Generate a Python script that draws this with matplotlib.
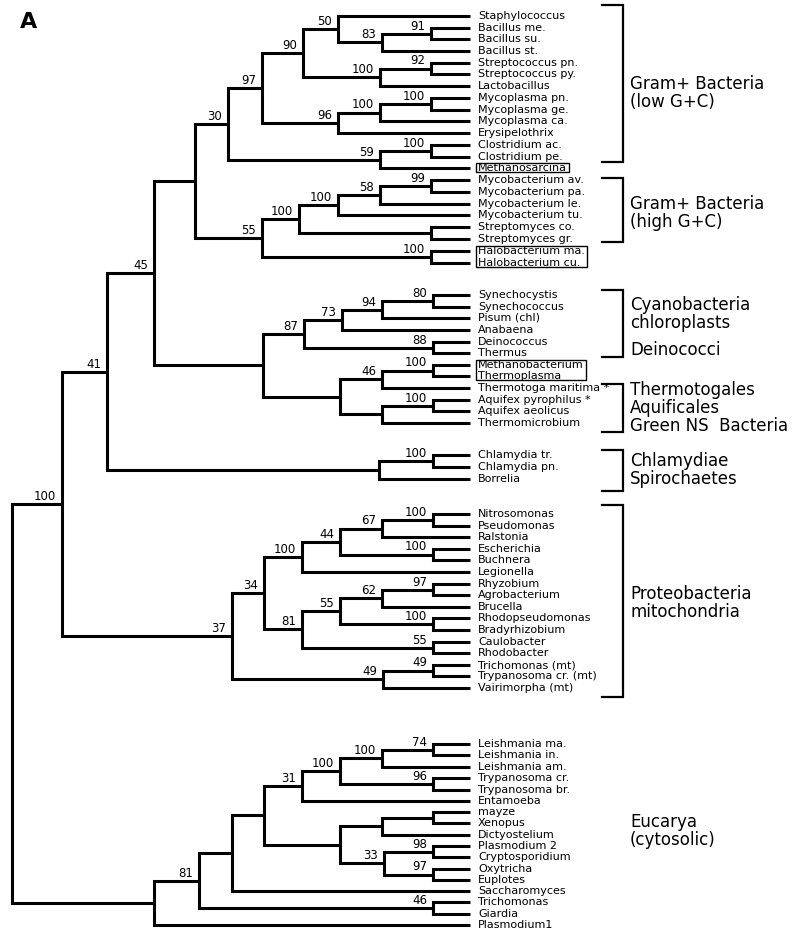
import matplotlib
matplotlib.use('Agg')
import matplotlib.pyplot as plt
from matplotlib.patches import Rectangle

# ── leaves (top to bottom) and their row positions ─────────────────────────
leaves = [
    'Staphylococcus', 'Bacillus me.', 'Bacillus su.', 'Bacillus st.',
    'Streptococcus pn.', 'Streptococcus py.', 'Lactobacillus',
    'Mycoplasma pn.', 'Mycoplasma ge.', 'Mycoplasma ca.', 'Erysipelothrix',
    'Clostridium ac.', 'Clostridium pe.', 'Methanosarcina',
    'Mycobacterium av.', 'Mycobacterium pa.', 'Mycobacterium le.',
    'Mycobacterium tu.', 'Streptomyces co.', 'Streptomyces gr.',
    'Halobacterium ma.', 'Halobacterium cu.',
    'Synechocystis', 'Synechococcus', 'Pisum (chl)', 'Anabaena',
    'Deinococcus', 'Thermus', 'Methanobacterium', 'Thermoplasma',
    'Thermotoga maritima *', 'Aquifex pyrophilus *', 'Aquifex aeolicus',
    'Thermomicrobium',
    'Chlamydia tr.', 'Chlamydia pn.', 'Borrelia',
    'Nitrosomonas', 'Pseudomonas', 'Ralstonia', 'Escherichia', 'Buchnera',
    'Legionella', 'Rhyzobium', 'Agrobacterium', 'Brucella',
    'Rhodopseudomonas', 'Bradyrhizobium', 'Caulobacter', 'Rhodobacter',
    'Trichomonas (mt)', 'Trypanosoma cr. (mt)', 'Vairimorpha (mt)',
    'Leishmania ma.', 'Leishmania in.', 'Leishmania am.', 'Trypanosoma cr.',
    'Trypanosoma br.', 'Entamoeba', 'mayze', 'Xenopus', 'Dictyostelium',
    'Plasmodium 2', 'Cryptosporidium', 'Oxytricha', 'Euplotes',
    'Saccharomyces', 'Trichomonas', 'Giardia', 'Plasmodium1',
]
leaf_y = [
    16, 28, 39, 51, 63, 74, 86, 98, 110, 121, 133, 145, 157, 168,
    180, 192, 204, 215, 227, 239, 251, 263,
    295, 307, 318, 330, 342, 353, 365, 376, 388, 400, 411, 423,
    455, 467, 479,
    514, 526, 537, 549, 560, 572, 584, 595, 607, 618, 630, 642, 653,
    665, 676, 688,
    744, 755, 767, 778, 790, 801, 812, 823, 835, 846, 857, 869, 880,
    891, 902, 914, 925,
]

# ── internal nodes: (id, depth, children, bootstrap) ─ children first ─────
nodes = [
    ('n91', 431, ('Bacillus me.', 'Bacillus su.'), '91'),
    ('n83', 382, ('n91', 'Bacillus st.'), '83'),
    ('n50', 338, ('Staphylococcus', 'n83'), '50'),
    ('n92', 431, ('Streptococcus pn.', 'Streptococcus py.'), '92'),
    ('n100a', 380, ('n92', 'Lactobacillus'), '100'),
    ('n90', 303, ('n50', 'n100a'), '90'),
    ('n100b', 431, ('Mycoplasma pn.', 'Mycoplasma ge.'), '100'),
    ('n100c', 380, ('n100b', 'Mycoplasma ca.'), '100'),
    ('n96', 338, ('n100c', 'Erysipelothrix'), '96'),
    ('n97', 262, ('n90', 'n96'), '97'),
    ('n100d', 431, ('Clostridium ac.', 'Clostridium pe.'), '100'),
    ('n59', 380, ('n100d', 'Methanosarcina'), '59'),
    ('n30', 228, ('n97', 'n59'), '30'),
    ('n99', 431, ('Mycobacterium av.', 'Mycobacterium pa.'), '99'),
    ('n58', 380, ('n99', 'Mycobacterium le.'), '58'),
    ('n100e', 338, ('n58', 'Mycobacterium tu.'), '100'),
    ('nstr', 431, ('Streptomyces co.', 'Streptomyces gr.'), ''),
    ('n100f', 299, ('n100e', 'nstr'), '100'),
    ('nhal', 431, ('Halobacterium ma.', 'Halobacterium cu.'), '100'),
    ('n55', 262, ('n100f', 'nhal'), '55'),
    ('nA', 195, ('n30', 'n55'), ''),
    ('n80', 433, ('Synechocystis', 'Synechococcus'), '80'),
    ('n94', 382, ('n80', 'Pisum (chl)'), '94'),
    ('n73', 342, ('n94', 'Anabaena'), '73'),
    ('n88', 433, ('Deinococcus', 'Thermus'), '88'),
    ('n87', 304, ('n73', 'n88'), '87'),
    ('nmet', 433, ('Methanobacterium', 'Thermoplasma'), '100'),
    ('n46', 382, ('nmet', 'Thermotoga maritima *'), '46'),
    ('naqu', 433, ('Aquifex pyrophilus *', 'Aquifex aeolicus'), '100'),
    ('nB2', 382, ('naqu', 'Thermomicrobium'), ''),
    ('nB', 340, ('n46', 'nB2'), ''),
    ('nC', 263, ('n87', 'nB'), ''),
    ('n45', 154, ('nA', 'nC'), '45'),
    ('nchl', 433, ('Chlamydia tr.', 'Chlamydia pn.'), '100'),
    ('nchb', 379, ('nchl', 'Borrelia'), ''),
    ('n41', 107, ('n45', 'nchb'), '41'),
    ('nnit', 433, ('Nitrosomonas', 'Pseudomonas'), '100'),
    ('n67', 382, ('nnit', 'Ralstonia'), '67'),
    ('nesc', 433, ('Escherichia', 'Buchnera'), '100'),
    ('n44', 340, ('n67', 'nesc'), '44'),
    ('n100p', 302, ('n44', 'Legionella'), '100'),
    ('nrhy', 433, ('Rhyzobium', 'Agrobacterium'), '97'),
    ('n62', 382, ('nrhy', 'Brucella'), '62'),
    ('nrho', 433, ('Rhodopseudomonas', 'Bradyrhizobium'), '100'),
    ('n55p', 340, ('n62', 'nrho'), '55'),
    ('ncau', 433, ('Caulobacter', 'Rhodobacter'), '55'),
    ('n81p', 302, ('n55p', 'ncau'), '81'),
    ('n34', 264, ('n100p', 'n81p'), '34'),
    ('ntrm', 433, ('Trichomonas (mt)', 'Trypanosoma cr. (mt)'), '49'),
    ('n49', 383, ('ntrm', 'Vairimorpha (mt)'), '49'),
    ('n37', 232, ('n34', 'n49'), '37'),
    ('nbac', 62, ('n41', 'n37'), '100'),
    ('nlei', 433, ('Leishmania ma.', 'Leishmania in.'), '74'),
    ('n100l', 382, ('nlei', 'Leishmania am.'), '100'),
    ('ntry', 433, ('Trypanosoma cr.', 'Trypanosoma br.'), '96'),
    ('n100k', 340, ('n100l', 'ntry'), '100'),
    ('n31', 302, ('n100k', 'Entamoeba'), '31'),
    ('nmay', 433, ('mayze', 'Xenopus'), ''),
    ('nDi', 382, ('nmay', 'Dictyostelium'), ''),
    ('npla', 433, ('Plasmodium 2', 'Cryptosporidium'), '98'),
    ('noxy', 433, ('Oxytricha', 'Euplotes'), '97'),
    ('n33', 384, ('npla', 'noxy'), '33'),
    ('nE1', 340, ('nDi', 'n33'), ''),
    ('nE2', 264, ('n31', 'nE1'), ''),
    ('nE3', 232, ('nE2', 'Saccharomyces'), ''),
    ('ngia', 433, ('Trichomonas', 'Giardia'), '46'),
    ('n81e', 199, ('nE3', 'ngia'), '81'),
    ('nE5', 154, ('n81e', 'Plasmodium1'), ''),
    ('root', 12, ('nbac', 'nE5'), ''),
]

# ── group brackets on the right ────────────────────────────────────────────
group_top = [5, 178, 290, 384, 450, 505]
group_bot = [162, 242, 357, 432, 491, 697]
group_text = ['Gram+ Bacteria\n(low G+C)', 'Gram+ Bacteria\n(high G+C)',
              'Cyanobacteria\nchloroplasts', 'Deinococci',
              'Thermotogales\nAquificales\nGreen NS  Bacteria',
              'Chlamydiae\nSpirochaetes', 'Proteobacteria\nmitochondria',
              'Eucarya\n(cytosolic)']
group_text_y = [93, 213, 314, 350, 408, 470, 603, 831]

# leaves drawn inside a box (archaea)
boxed = [['Methanosarcina'], ['Halobacterium ma.', 'Halobacterium cu.'],
         ['Methanobacterium', 'Thermoplasma']]

LEAF_X = 470
FONT = 'DejaVu Sans'
LW = 2.2

fig = plt.figure(figsize=(8, 9.39), dpi=100)
ax = fig.add_axes([0, 0, 1, 1])
ax.set_xlim(0, 800)
ax.set_ylim(939, 0)
ax.axis('off')

pos = {name: (LEAF_X, y) for name, y in zip(leaves, leaf_y)}
for nid, x, kids, sup in nodes:
    (x0, y0), (x1, y1) = pos[kids[0]], pos[kids[-1]]
    pos[nid] = (x, (y0 + y1) / 2)
    ax.plot([x0, x, x, x1], [y0, y0, y1, y1], color='black', lw=LW,
            solid_joinstyle='miter', solid_capstyle='butt')
    if sup:
        ax.text(x - 6, pos[nid][1] - 4, sup, ha='right', va='baseline',
                fontsize=8.5, family=FONT)

txt = {}
for name, y in zip(leaves, leaf_y):
    txt[name] = ax.text(LEAF_X + 8, y, name, ha='left', va='center',
                        fontsize=8, family=FONT)

# boxes around archaeal names
fig.canvas.draw()
r = fig.canvas.get_renderer()
inv = ax.transData.inverted()
for grp in boxed:
    exts = [inv.transform(txt[n].get_window_extent(r)) for n in grp]
    x0 = min(e[:, 0].min() for e in exts) - 2
    x1 = max(e[:, 0].max() for e in exts) + 2
    ys = [v for e in exts for v in e[:, 1]]
    y0, y1 = min(ys) + 0.5, max(ys) - 0.5
    ax.add_patch(Rectangle((x0, y0), x1 - x0, y1 - y0, fill=False,
                           lw=1.0, ec='black'))

for top, bot in zip(group_top, group_bot):
    ax.plot([602, 623, 623, 602], [top, top, bot, bot], color='black',
            lw=1.6, solid_joinstyle='miter')

for s, y in zip(group_text, group_text_y):
    ax.text(630, y, s, ha='left', va='center', fontsize=12, family=FONT,
            linespacing=0.98)

ax.text(20, 22, 'A', ha='left', va='center', fontsize=16,
        fontweight='bold', family=FONT)

fig.savefig('out.png', dpi=100)
